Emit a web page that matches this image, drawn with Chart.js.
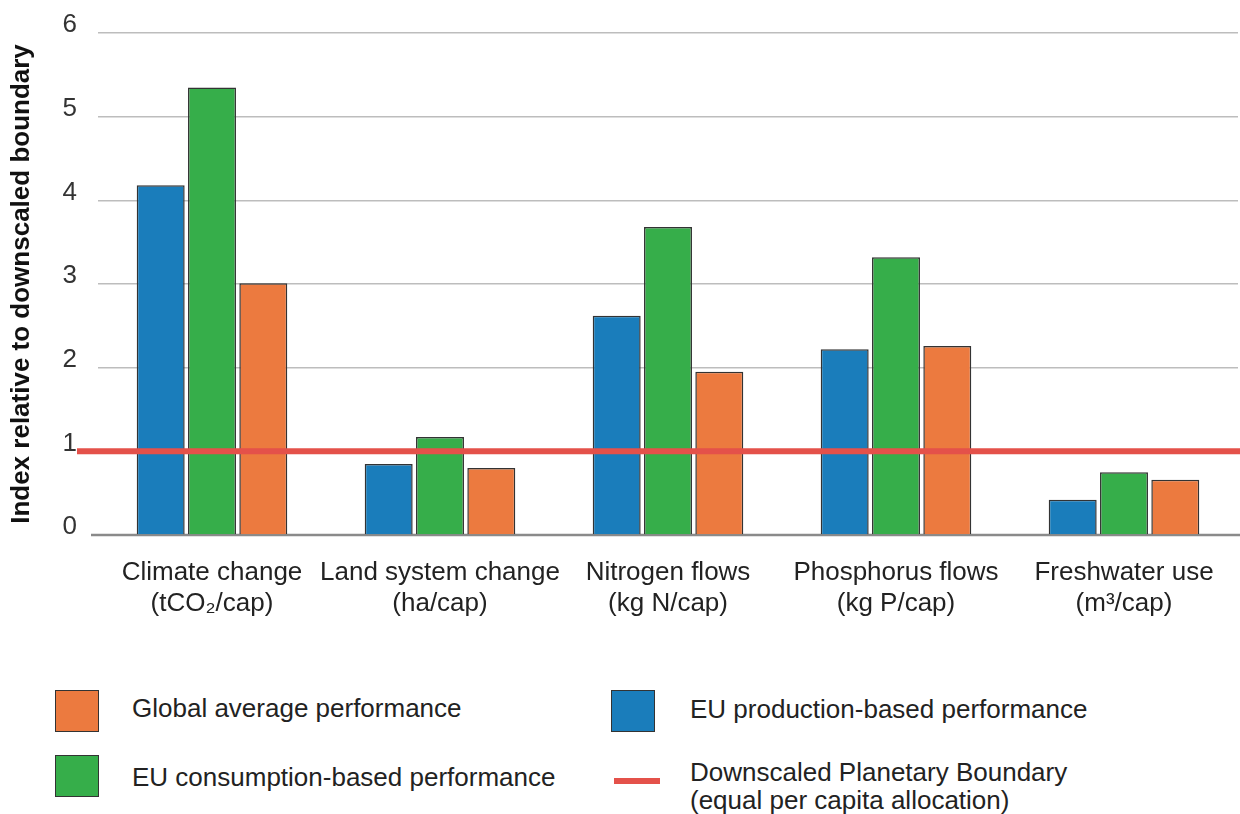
<!DOCTYPE html>
<html>
<head>
<meta charset="utf-8">
<script src="https://cdn.jsdelivr.net/npm/chart.js@4.4.1/dist/chart.umd.min.js"></script>
<style>
  body { margin: 0; background: #fff; font-family: "Liberation Sans", Arial, sans-serif; }
  #wrap { position: relative; width: 1240px; height: 814px; }
  #box { position: absolute; left: 0; top: 0; width: 1240px; height: 650px; }
  .leg { position: absolute; font-size: 26px; color: #222; line-height: 28px; white-space: nowrap; }
  .sw { position: absolute; width: 44px; height: 42px; border: 1.5px solid #333; box-sizing: border-box; }
</style>
</head>
<body>
<div id="wrap">
  <div id="box"><canvas id="myChart"></canvas></div>

  <div class="sw" style="left:55px;top:690px;background:#ec7a3f"></div>
  <div class="leg" style="left:132px;top:694px">Global average performance</div>

  <div class="sw" style="left:55px;top:755px;background:#36ae4a"></div>
  <div class="leg" style="left:132px;top:763px">EU consumption-based performance</div>

  <div class="sw" style="left:611px;top:690px;background:#1a7dbb"></div>
  <div class="leg" style="left:690px;top:695px">EU production-based performance</div>

  <div style="position:absolute;left:614px;top:778px;width:46px;height:6px;background:#e4514a"></div>
  <div class="leg" style="left:690px;top:758px">Downscaled Planetary Boundary<br>(equal per capita allocation)</div>
</div>

<script>
// categories (two-line labels)
const categories = [
    ["Climate change", "(tCO\u2082/cap)"],
    ["Land system change", "(ha/cap)"],
    ["Nitrogen flows", "(kg N/cap)"],
    ["Phosphorus flows", "(kg P/cap)"],
    ["Freshwater use", "(m\u00b3/cap)"]
];

// index relative to downscaled boundary
const euProduction  = [4.18, 0.85, 2.62, 2.22, 0.42];
const euConsumption = [5.35, 1.17, 3.68, 3.32, 0.75];
const globalAverage = [3.01, 0.80, 1.95, 2.26, 0.66];

// downscaled planetary boundary
const boundary = 1;

const yTicks = [0, 1, 2, 3, 4, 5, 6];

// red boundary line and the zero baseline, drawn across the plot
const extraLines = {
    id: "extraLines",
    beforeDatasetsDraw(chart) {
        const ctx = chart.ctx;
        const y0 = chart.scales.y.getPixelForValue(0);
        ctx.save();
        ctx.strokeStyle = "#8a8a8a";
        ctx.lineWidth = 2.5;
        ctx.beginPath();
        ctx.moveTo(91, y0);
        ctx.lineTo(chart.width, y0);
        ctx.stroke();
        ctx.restore();
    },
    afterDatasetsDraw(chart) {
        const ctx = chart.ctx;
        const y = chart.scales.y.getPixelForValue(boundary);
        ctx.save();
        ctx.strokeStyle = "#e4514a";
        ctx.lineWidth = 6;
        ctx.beginPath();
        ctx.moveTo(77, y);
        ctx.lineTo(chart.width, y);
        ctx.stroke();
        ctx.restore();
    }
};

const barStyle = {
    borderColor: "#333333",
    borderWidth: 1.5,
    barPercentage: 0.935,
    categoryPercentage: 0.675
};

new Chart(document.getElementById("myChart"), {
    type: "bar",
    data: {
        labels: categories,
        datasets: [
            Object.assign({ label: "EU production-based performance", data: euProduction, backgroundColor: "#1a7dbb" }, barStyle),
            Object.assign({ label: "EU consumption-based performance", data: euConsumption, backgroundColor: "#36ae4a" }, barStyle),
            Object.assign({ label: "Global average performance", data: globalAverage, backgroundColor: "#ec7a3f" }, barStyle)
        ]
    },
    options: {
        responsive: true,
        maintainAspectRatio: false,
        animation: false,
        layout: { padding: { top: 33, right: 2, left: 0, bottom: 0 } },
        plugins: {
            legend: { display: false },
            tooltip: { enabled: false }
        },
        scales: {
            x: {
                grid: { display: false },
                border: { display: false },
                ticks: {
                    color: "#222",
                    font: { family: "Liberation Sans", size: 26, lineHeight: 1.2 },
                    padding: 14,
                    maxRotation: 0,
                    autoSkip: false
                },
                afterFit(s) { s.height = 115; }
            },
            y: {
                min: 0,
                max: 6,
                afterBuildTicks(s) { s.ticks = yTicks.map(v => ({ value: v })); },
                grid: {
                    color: (c) => c.tick && c.tick.value === 0 ? "rgba(0,0,0,0)" : "#bdbdbd",
                    lineWidth: 1.5,
                    drawTicks: false
                },
                border: { display: false },
                ticks: {
                    color: "#333",
                    font: { family: "Liberation Sans", size: 26 },
                    padding: 21,
                    labelOffset: -8
                },
                title: {
                    display: true,
                    text: "Index relative to downscaled boundary",
                    color: "#111",
                    font: { family: "Liberation Sans", size: 26, weight: "bold" },
                    padding: { top: 6, bottom: 0 }
                },
                afterFit(s) {
                    s.width = 98;
                    s.paddingTop = 0;
                    s.paddingBottom = 0;
                }
            }
        }
    },
    plugins: [extraLines]
});
</script>
</body>
</html>
